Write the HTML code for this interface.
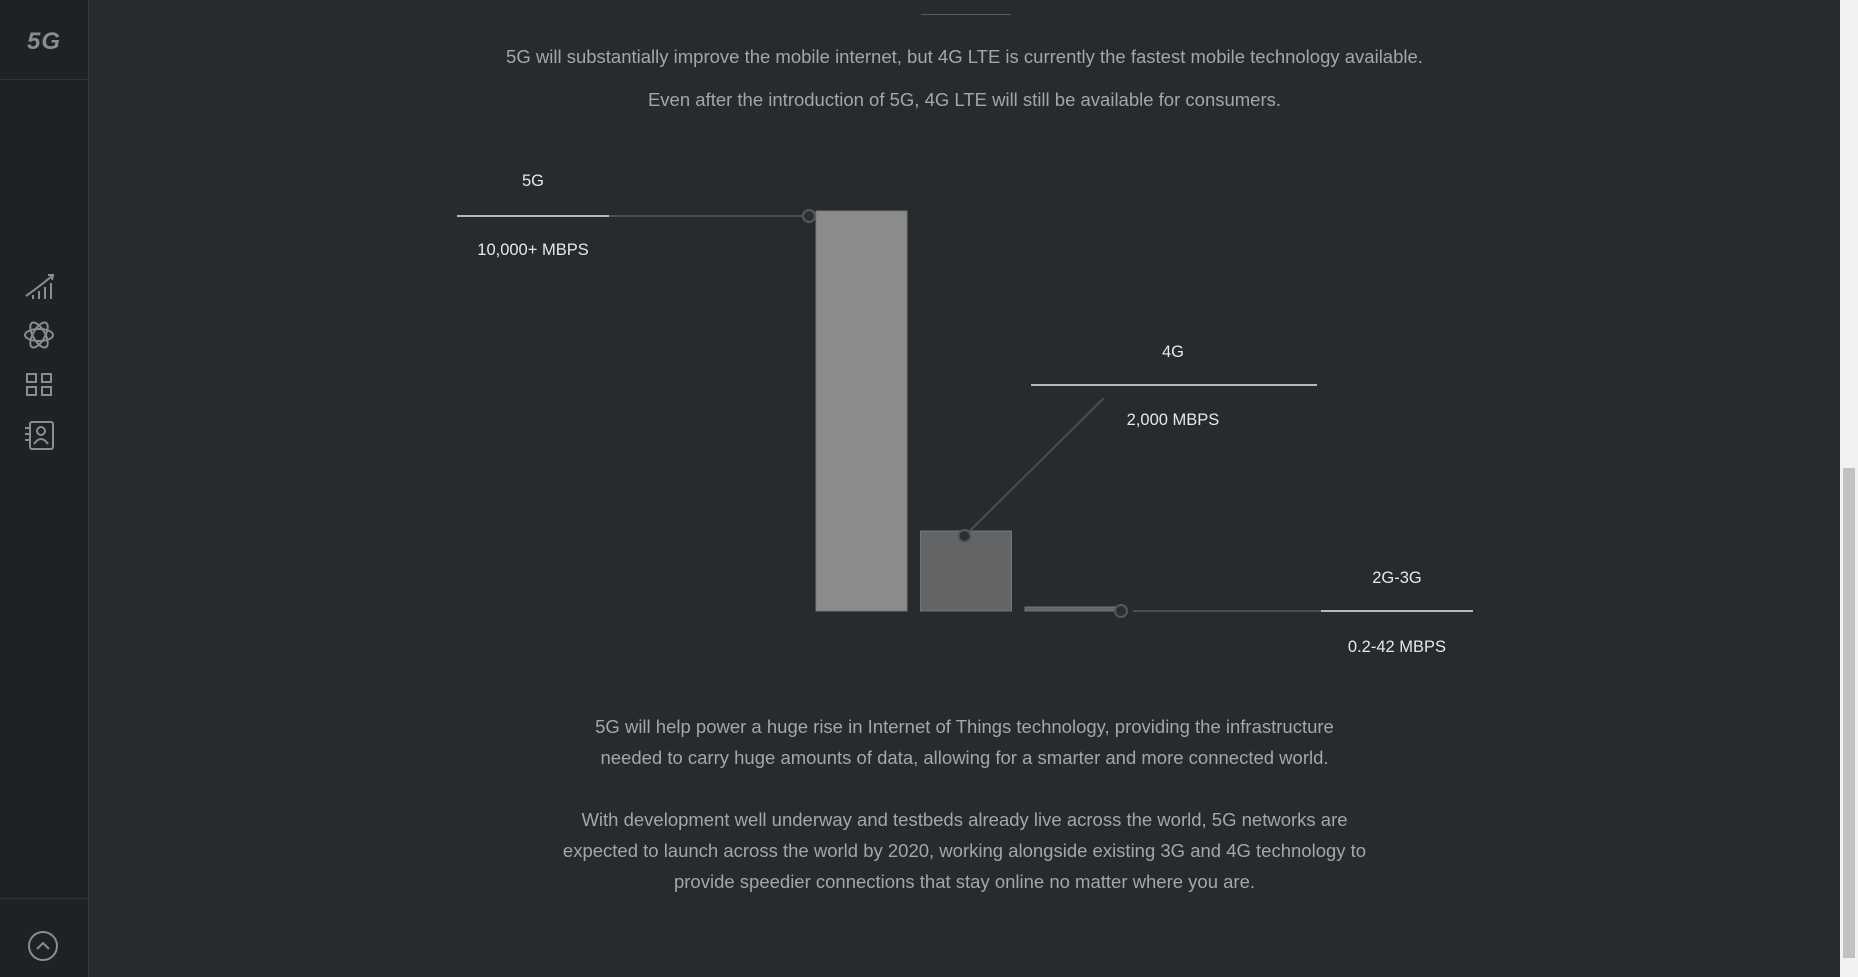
<!DOCTYPE html>
<html><head><meta charset="utf-8"><style>
html,body{margin:0;padding:0;width:1858px;height:977px;overflow:hidden;background:#262b2e;font-family:"Liberation Sans",sans-serif}
#side{position:absolute;left:0;top:0;width:88px;height:977px;background:#1e2224;border-right:1px solid #33383b}
.txt{position:absolute;left:89px;width:1751px;text-align:center;color:#a4a6a7;font-size:18.5px}
#scroll{position:absolute;left:1840px;top:0;width:18px;height:977px;background:#f1f1f1}
#thumb{position:absolute;left:1843px;top:468px;width:12px;height:490px;background:#c1c1c1}
</style></head><body>
<div id="side">
 <div style="position:absolute;left:0;width:88px;top:28px;text-align:center;color:#8a8c8d;font-weight:bold;font-size:24px;letter-spacing:1px;font-style:italic">5G</div>
 <div style="position:absolute;left:0;top:79px;width:88px;height:1px;background:#2e3336"></div>
 <svg width="88" height="977" style="position:absolute;left:0;top:0" fill="none" stroke="#8a8c8d" stroke-width="2">
  <g><path d="M26 296 Q40 286 52 276"/><path d="M48 275 L53 275 L52 280"/><path d="M33 299v-4M39 299v-8M45 299v-12M51 299v-16"/></g>
  <g><ellipse cx="39" cy="335" rx="14" ry="6"/><ellipse cx="39" cy="335" rx="14" ry="6" transform="rotate(60 39 335)"/><ellipse cx="39" cy="335" rx="14" ry="6" transform="rotate(-60 39 335)"/></g>
  <g><rect x="27" y="374" width="9" height="8"/><rect x="42" y="374" width="9" height="8"/><rect x="27" y="387" width="9" height="8"/><rect x="42" y="387" width="9" height="8"/></g>
  <g><rect x="30" y="422" width="23" height="27" rx="2"/><circle cx="41" cy="431" r="4"/><path d="M34 444 Q41 434 48 444"/><path d="M25 428h6M25 434h6M25 440h6"/></g>
 </svg>
 <div style="position:absolute;left:0;top:898px;width:88px;height:1px;background:#2e3336"></div>
 <svg width="40" height="40" style="position:absolute;left:23px;top:926px" fill="none" stroke="#8a8c8d" stroke-width="2"><circle cx="20" cy="20" r="14"/><path d="M14 23 L20 17 L26 23"/></svg>
</div>
<div style="position:absolute;left:921px;top:14px;width:90px;height:1px;background:#55595b"></div>
<div class="txt" style="top:46px">5G will substantially improve the mobile internet, but 4G LTE is currently the fastest mobile technology available.</div>
<div class="txt" style="top:89px">Even after the introduction of 5G, 4G LTE will still be available for consumers.</div>
<svg id="chart" width="1858" height="977" style="position:absolute;left:0;top:0" font-family="Liberation Sans, sans-serif"></svg>
<div class="txt" style="top:711px;line-height:31px">5G will help power a huge rise in Internet of Things technology, providing the infrastructure<br>needed to carry huge amounts of data, allowing for a smarter and more connected world.</div>
<div class="txt" style="top:804px;line-height:31px">With development well underway and testbeds already live across the world, 5G networks are<br>expected to launch across the world by 2020, working alongside existing 3G and 4G technology to<br>provide speedier connections that stay online no matter where you are.</div>
<div id="scroll"></div><div id="thumb"></div>
<script>
const categories=["5G","4G","2G-3G"];
const values=[10000,2000,42];
const valueLabels=["10,000+ MBPS","2,000 MBPS","0.2-42 MBPS"];
const svg=document.getElementById('chart');
const NS='http://www.w3.org/2000/svg';
const base=611, top0=211, vmax=10000;
function y(v){return base-(v/vmax)*(base-top0);}
function xb(i){return 816+i*104.5;}
const bw=91, fills=["#8b8b8b","#626465","#626465"];
function mk(t,a){const e=document.createElementNS(NS,t);for(const k in a)e.setAttribute(k,a[k]);svg.appendChild(e);return e;}
values.forEach((v,i)=>{
 const top=Math.min(y(v),base-4);
 const r=mk('rect',{x:xb(i),y:top,width:bw,height:base-top,fill:fills[i],stroke:'#777',"stroke-width":1});
 
 
});
const lab=[{lx:533,ly:180,vy:249,l1:457,l2:609,ly2:216},{lx:1173,ly:351,vy:419,l1:1031,l2:1317,ly2:385},{lx:1397,ly:577,vy:646,l1:1321,l2:1473,ly2:611}];
const p0={x:809,y:y(values[0])+5}; mk('line',{x1:609,y1:216,x2:p0.x,y2:p0.y,stroke:'#4a4e50','stroke-width':2});
const p1={x:xb(1)+44,y:y(values[1])+5}; mk('line',{x1:p1.x,y1:p1.y,x2:1104,y2:398,stroke:'#4a4e50','stroke-width':2});
const p2={x:1121,y:base}; mk('line',{x1:1133,y1:base,x2:1321,y2:base,stroke:'#4a4e50','stroke-width':2});
[p0,p1,p2].forEach((p,i)=>{const c=mk('circle',{cx:p.x,cy:p.y,r:6,fill:'#2a2f31',stroke:'#55595b','stroke-width':2});
 
 });
lab.forEach((L,i)=>{
 const ln=mk('line',{x1:L.l1,y1:L.ly2,x2:L.l2,y2:L.ly2,stroke:'#e6e6e6','stroke-width':1.5});
 
 
 const t=mk('text',{x:L.lx,y:L.ly+6,'text-anchor':'middle',fill:'#e8e8e8','font-size':16.5});t.textContent=categories[i];
 
 
 const t2=mk('text',{x:L.lx,y:L.vy+6,'text-anchor':'middle',fill:'#e8e8e8','font-size':16.5});t2.textContent=valueLabels[i];
 
 
});
</script>
</body></html>
